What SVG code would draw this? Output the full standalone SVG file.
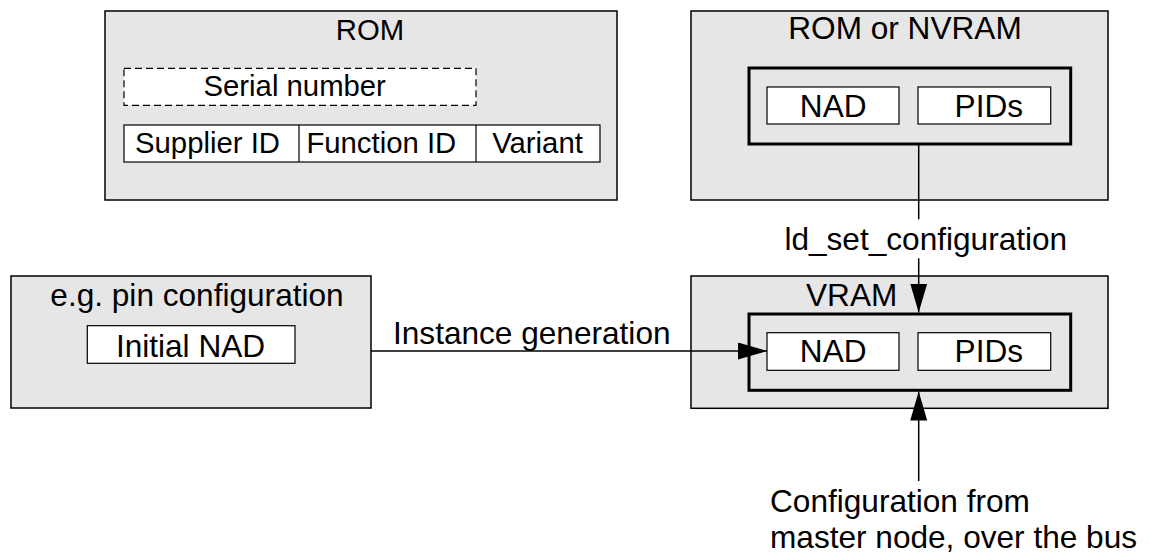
<svg xmlns="http://www.w3.org/2000/svg" width="1149" height="557" viewBox="0 0 1149 557">
<style>
text{font-family:"Liberation Sans",Arial,sans-serif;font-size:31.6px;fill:#000}
.s{font-size:29.3px}
.m{text-anchor:middle}
.outer{fill:#e6e6e6;stroke:#000;stroke-width:1.5}
.inner{fill:none;stroke:#000;stroke-width:3}
.cell{fill:#fff;stroke:#000;stroke-width:1.2}
.dash{fill:#fff;stroke:#000;stroke-width:1.2;stroke-dasharray:7 4}
.conn{fill:none;stroke:#000;stroke-width:1.5}
</style>
<defs>
<marker id="arr" markerUnits="userSpaceOnUse" markerWidth="30" markerHeight="18" refX="29" refY="8.5" orient="auto">
<path d="M0,0 L29,8.5 L0,17 Z" fill="#000"/>
</marker>
</defs>
<rect width="1149" height="557" fill="#fff"/>

<g id="rom">
<rect class="outer" x="105" y="11" width="512" height="189"/>
<text class="s m" x="370" y="39.5">ROM</text>
<rect class="dash" x="124" y="68.3" width="352" height="37"/>
<text class="s m" x="294.7" y="96">Serial number</text>
<rect class="cell" x="124" y="125" width="476" height="37"/>
<line x1="299" y1="125" x2="299" y2="162" stroke="#000" stroke-width="1.2"/>
<line x1="476" y1="125" x2="476" y2="162" stroke="#000" stroke-width="1.2"/>
<text class="s m" x="207.5" y="153.3">Supplier ID</text>
<text class="s m" x="381.3" y="153.3">Function ID</text>
<text class="s m" x="537.5" y="153.3">Variant</text>
</g>

<g id="rom-nvram">
<rect class="outer" x="691" y="11" width="417" height="189"/>
<text class="m" x="905" y="39">ROM or NVRAM</text>
<rect class="inner" x="749" y="68" width="321.7" height="76"/>
<rect class="cell" x="767" y="87" width="132" height="37"/>
<text class="m" x="833.2" y="116.7">NAD</text>
<rect class="cell" x="918" y="87" width="132.7" height="37"/>
<text class="m" x="988.8" y="116.7">PIDs</text>
</g>

<g id="pin-config">
<rect class="outer" x="11" y="276" width="360" height="132"/>
<text class="m" x="197" y="306">e.g. pin configuration</text>
<rect class="cell" x="87.3" y="325.7" width="207.7" height="37.6"/>
<text class="m" x="190.5" y="357.3">Initial NAD</text>
</g>

<g id="vram">
<rect class="outer" x="691" y="276" width="417" height="132.3"/>
<text x="806" y="306">VRAM</text>
<rect class="inner" x="749" y="314" width="321.7" height="76.3"/>
<rect class="cell" x="767" y="332.7" width="132" height="37.6"/>
<text class="m" x="833.2" y="362">NAD</text>
<rect class="cell" x="918" y="332.7" width="132.7" height="37.6"/>
<text class="m" x="988.8" y="362">PIDs</text>
</g>

<g id="connectors">
<line class="conn" x1="918.7" y1="144" x2="918.7" y2="219.3"/>
<line class="conn" x1="918.7" y1="258.3" x2="918.7" y2="312.5" marker-end="url(#arr)"/>
<line class="conn" x1="371" y1="351" x2="767" y2="351" marker-end="url(#arr)"/>
<line class="conn" x1="918.7" y1="481" x2="918.7" y2="391.5" marker-end="url(#arr)"/>
<text class="m" x="925.8" y="250">ld_set_configuration</text>
<text x="393" y="344.3">Instance generation</text>
<text x="770" y="512">Configuration from<tspan x="770" y="548">master node, over the bus</tspan></text>
</g>
</svg>
